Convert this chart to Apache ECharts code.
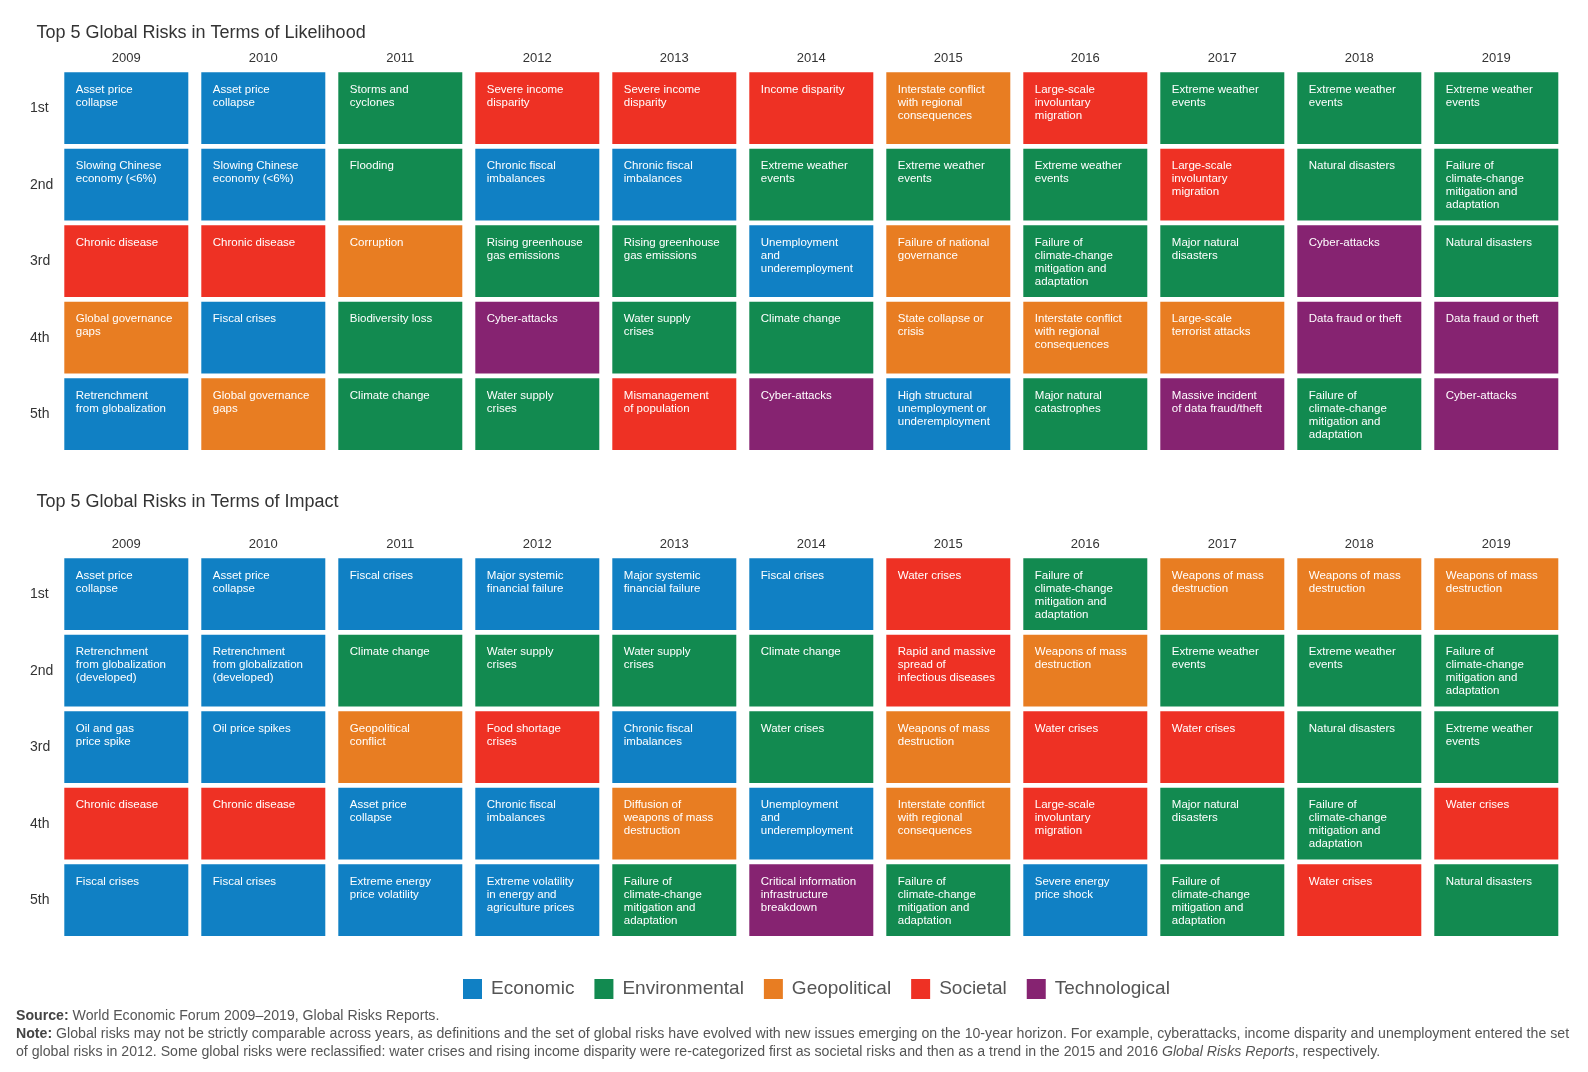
<!DOCTYPE html>
<html>
<head>
<meta charset="utf-8">
<script src="https://cdn.jsdelivr.net/npm/echarts@6/dist/echarts.min.js"></script>
<style>
html,body{margin:0;padding:0;background:#fff;}
#chart{width:1588px;height:1072px;}
</style>
</head>
<body>
<div id="chart"></div>
<script>
const years = ['2009','2010','2011','2012','2013','2014','2015','2016','2017','2018','2019'];
const ranks = ['1st','2nd','3rd','4th','5th'];
const categoryNames = ['Economic','Environmental','Geopolitical','Societal','Technological'];
const categoryCodes = ['E','N','G','S','T'];
const categoryColors = ['#1080c4','#128a50','#e87d22','#ee3124','#862371'];

const likelihoodRisks = [
  ['Asset price\ncollapse','Slowing Chinese\neconomy (<6%)','Chronic disease','Global governance\ngaps','Retrenchment\nfrom globalization'],
  ['Asset price\ncollapse','Slowing Chinese\neconomy (<6%)','Chronic disease','Fiscal crises','Global governance\ngaps'],
  ['Storms and\ncyclones','Flooding','Corruption','Biodiversity loss','Climate change'],
  ['Severe income\ndisparity','Chronic fiscal\nimbalances','Rising greenhouse\ngas emissions','Cyber-attacks','Water supply\ncrises'],
  ['Severe income\ndisparity','Chronic fiscal\nimbalances','Rising greenhouse\ngas emissions','Water supply\ncrises','Mismanagement\nof population'],
  ['Income disparity','Extreme weather\nevents','Unemployment\nand\nunderemployment','Climate change','Cyber-attacks'],
  ['Interstate conflict\nwith regional\nconsequences','Extreme weather\nevents','Failure of national\ngovernance','State collapse or\ncrisis','High structural\nunemployment or\nunderemployment'],
  ['Large-scale\ninvoluntary\nmigration','Extreme weather\nevents','Failure of\nclimate-change\nmitigation and\nadaptation','Interstate conflict\nwith regional\nconsequences','Major natural\ncatastrophes'],
  ['Extreme weather\nevents','Large-scale\ninvoluntary\nmigration','Major natural\ndisasters','Large-scale\nterrorist attacks','Massive incident\nof data fraud/theft'],
  ['Extreme weather\nevents','Natural disasters','Cyber-attacks','Data fraud or theft','Failure of\nclimate-change\nmitigation and\nadaptation'],
  ['Extreme weather\nevents','Failure of\nclimate-change\nmitigation and\nadaptation','Natural disasters','Data fraud or theft','Cyber-attacks']
];
const likelihoodCats = ['EESGE','EESEG','NNGNN','SENTN','SENNS','SNENT','GNGGE','SNNGN','NSNGT','NNTTN','NNNTT'];

const impactRisks = [
  ['Asset price\ncollapse','Retrenchment\nfrom globalization\n(developed)','Oil and gas\nprice spike','Chronic disease','Fiscal crises'],
  ['Asset price\ncollapse','Retrenchment\nfrom globalization\n(developed)','Oil price spikes','Chronic disease','Fiscal crises'],
  ['Fiscal crises','Climate change','Geopolitical\nconflict','Asset price\ncollapse','Extreme energy\nprice volatility'],
  ['Major systemic\nfinancial failure','Water supply\ncrises','Food shortage\ncrises','Chronic fiscal\nimbalances','Extreme volatility\nin energy and\nagriculture prices'],
  ['Major systemic\nfinancial failure','Water supply\ncrises','Chronic fiscal\nimbalances','Diffusion of\nweapons of mass\ndestruction','Failure of\nclimate-change\nmitigation and\nadaptation'],
  ['Fiscal crises','Climate change','Water crises','Unemployment\nand\nunderemployment','Critical information\ninfrastructure\nbreakdown'],
  ['Water crises','Rapid and massive\nspread of\ninfectious diseases','Weapons of mass\ndestruction','Interstate conflict\nwith regional\nconsequences','Failure of\nclimate-change\nmitigation and\nadaptation'],
  ['Failure of\nclimate-change\nmitigation and\nadaptation','Weapons of mass\ndestruction','Water crises','Large-scale\ninvoluntary\nmigration','Severe energy\nprice shock'],
  ['Weapons of mass\ndestruction','Extreme weather\nevents','Water crises','Major natural\ndisasters','Failure of\nclimate-change\nmitigation and\nadaptation'],
  ['Weapons of mass\ndestruction','Extreme weather\nevents','Natural disasters','Failure of\nclimate-change\nmitigation and\nadaptation','Water crises'],
  ['Weapons of mass\ndestruction','Failure of\nclimate-change\nmitigation and\nadaptation','Extreme weather\nevents','Water crises','Natural disasters']
];
const impactCats = ['EEESE','EEESE','ENGEE','ENSEE','ENEGN','ENNET','SSGGN','NGSSE','GNSNN','GNNNS','GNNSN'];

const FONT = "'Liberation Sans', Arial, Helvetica, sans-serif";

function makeSeries(risks, cats, g) {
  return categoryCodes.map(function (code, ci) {
    const items = [];
    risks.forEach(function (col, yi) {
      col.forEach(function (label, ri) {
        if (cats[yi][ri] === code) items.push({ value: [yi, ri], label: label });
      });
    });
    return {
      type: 'custom',
      name: categoryNames[ci],
      xAxisIndex: g,
      yAxisIndex: g,
      itemStyle: { color: categoryColors[ci] },
      data: items.map(function (d) { return { value: d.value, name: d.label }; }),
      renderItem: function (params, api) {
        const p = api.coord([api.value(0), api.value(1)]);
        const sz = api.size([1, 1]);
        const w = sz[0] - 13, h = sz[1] - 4.8;
        const x0 = p[0] - w / 2, y0 = p[1] - h / 2;
        return {
          type: 'group',
          children: [
            { type: 'rect', shape: { x: x0, y: y0, width: w, height: h }, style: { fill: categoryColors[ci] } },
            { type: 'text', style: {
                text: items[params.dataIndex].label, x: x0 + 11.5, y: y0 + 11,
                fill: '#ffffff', fontSize: 11.5, fontFamily: FONT, lineHeight: 13,
                align: 'left', verticalAlign: 'top', textAlign: 'left', textVerticalAlign: 'top'
            } }
          ]
        };
      }
    };
  });
}

const gridTops = [69.9, 555.9];
const grids = gridTops.map(function (t) { return { left: 57.8, top: t, width: 1507, height: 382.5 }; });
const xAxes = [0, 1].map(function (g) {
  return { type: 'category', gridIndex: g, data: years, position: 'top',
    axisLine: { show: false }, axisTick: { show: false }, splitLine: { show: false },
    axisLabel: { fontSize: 13, color: '#333', fontFamily: FONT, margin: 4.5 } };
});
const yAxes = [0, 1].map(function (g) {
  return { type: 'category', gridIndex: g, data: ranks, inverse: true,
    axisLine: { show: false }, axisTick: { show: false }, splitLine: { show: false },
    axisLabel: { fontSize: 14, color: '#333', fontFamily: FONT, align: 'left', margin: 27.8, padding: [3, 0, 0, 0] } };
});

const NOTE_FS = 14.15;
const chart = echarts.init(document.getElementById('chart'));
chart.setOption({
  backgroundColor: '#ffffff',
  animation: false,
  title: [
    { text: 'Top 5 Global Risks in Terms of Likelihood', left: 36.5, top: 24, padding: 0,
      textStyle: { fontSize: 18, fontWeight: 'normal', color: '#333', fontFamily: FONT } },
    { text: 'Top 5 Global Risks in Terms of Impact', left: 36.5, top: 493, padding: 0,
      textStyle: { fontSize: 18, fontWeight: 'normal', color: '#333', fontFamily: FONT } }
  ],
  legend: {
    data: categoryNames, left: 463, top: 979, icon: 'rect',
    itemWidth: 19, itemHeight: 20, itemGap: 20, padding: 0,
    selectedMode: false,
    textStyle: { fontSize: 19, color: '#555', fontFamily: FONT, padding: [0, 0, 0, 4] }
  },
  grid: grids,
  xAxis: xAxes,
  yAxis: yAxes,
  series: makeSeries(likelihoodRisks, likelihoodCats, 0).concat(makeSeries(impactRisks, impactCats, 1)),
  graphic: [
    { type: 'text', left: 16, top: 1009, style: {
        text: '{b|Source:} World Economic Forum 2009–2019, Global Risks Reports.',
        fill: '#555', fontSize: NOTE_FS, fontFamily: FONT,
        rich: { b: { fontWeight: 'bold', fill: '#444', fontSize: NOTE_FS, fontFamily: FONT } } } },
    { type: 'text', left: 16, top: 1027, style: {
        text: '{b|Note:} Global risks may not be strictly comparable across years, as definitions and the set of global risks have evolved with new issues emerging on the 10-year horizon. For example, cyberattacks, income disparity and unemployment entered the set',
        fill: '#555', fontSize: NOTE_FS, fontFamily: FONT,
        rich: { b: { fontWeight: 'bold', fill: '#444', fontSize: NOTE_FS, fontFamily: FONT } } } },
    { type: 'text', left: 16, top: 1045, style: {
        text: 'of global risks in 2012. Some global risks were reclassified: water crises and rising income disparity were re-categorized first as societal risks and then as a trend in the 2015 and 2016 {i|Global Risks Reports}, respectively.',
        fill: '#555', fontSize: NOTE_FS, fontFamily: FONT,
        rich: { i: { fontStyle: 'italic', fill: '#555', fontSize: NOTE_FS, fontFamily: FONT } } } }
  ]
});
</script>
</body>
</html>
